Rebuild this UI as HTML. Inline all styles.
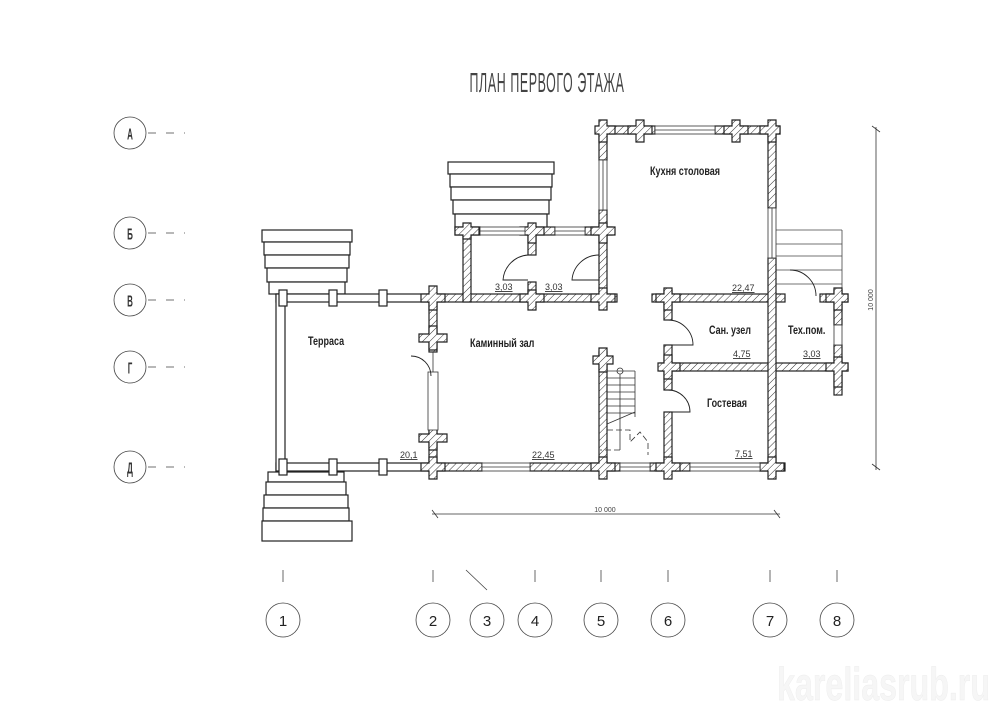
<!DOCTYPE html>
<html><head><meta charset="utf-8"><style>
html,body{margin:0;padding:0;background:#fff}
svg{display:block}
text{font-family:"Liberation Sans",sans-serif}
</style></head><body>
<svg width="1000" height="707" viewBox="0 0 1000 707" xmlns="http://www.w3.org/2000/svg">
<defs>
<pattern id="h" patternUnits="userSpaceOnUse" width="5" height="5" patternTransform="rotate(45)">
<rect width="5" height="5" fill="#fff"/><line x1="0" y1="0" x2="0" y2="5" stroke="#333" stroke-width="1"/>
</pattern>
</defs>

<!-- title -->
<text x="547" y="92" font-size="20" text-anchor="middle" fill="#444" transform="translate(547 92) scale(0.62 1.4) translate(-547 -92)" letter-spacing="1">ПЛАН ПЕРВОГО ЭТАЖА</text>

<!-- left axis circles -->
<g stroke="#444" fill="none" stroke-width="0.8">
<circle cx="130" cy="133" r="16"/><circle cx="130" cy="233" r="16"/><circle cx="130" cy="300" r="16"/><circle cx="130" cy="367" r="16"/><circle cx="130" cy="467" r="16"/>
<g stroke-dasharray="8,10"><line x1="148" y1="133" x2="185" y2="133"/><line x1="148" y1="233" x2="185" y2="233"/><line x1="148" y1="300" x2="185" y2="300"/><line x1="148" y1="367" x2="185" y2="367"/><line x1="148" y1="467" x2="185" y2="467"/></g>
<!-- bottom axis -->
<circle cx="283" cy="620" r="17"/><circle cx="433" cy="620" r="17"/><circle cx="487" cy="620" r="17"/><circle cx="535" cy="620" r="17"/><circle cx="601" cy="620" r="17"/><circle cx="668" cy="620" r="17"/><circle cx="770" cy="620" r="17"/><circle cx="837" cy="620" r="17"/>
<line x1="283" y1="570" x2="283" y2="582"/><line x1="433" y1="570" x2="433" y2="582"/><line x1="466" y1="570" x2="487" y2="590"/><line x1="535" y1="570" x2="535" y2="582"/><line x1="601" y1="570" x2="601" y2="582"/><line x1="668" y1="570" x2="668" y2="582"/><line x1="770" y1="570" x2="770" y2="582"/><line x1="837" y1="570" x2="837" y2="582"/>
</g>
<g font-size="10" font-weight="bold" text-anchor="middle" fill="#333">
<text x="130" y="137" transform="translate(130 133) scale(0.8 1.6) translate(-130 -133)">А</text>
<text x="130" y="237" transform="translate(130 233) scale(0.8 1.6) translate(-130 -233)">Б</text>
<text x="130" y="304" transform="translate(130 300) scale(0.8 1.6) translate(-130 -300)">В</text>
<text x="130" y="371" transform="translate(130 367) scale(0.8 1.6) translate(-130 -367)">Г</text>
<text x="130" y="471" transform="translate(130 467) scale(0.8 1.6) translate(-130 -467)">Д</text>
</g>
<g font-size="15" text-anchor="middle" fill="#222">
<text x="283" y="626">1</text><text x="433" y="626">2</text><text x="487" y="626">3</text><text x="535" y="626">4</text><text x="601" y="626">5</text><text x="668" y="626">6</text><text x="770" y="626">7</text><text x="837" y="626">8</text>
</g>

<!-- dimension lines -->
<g stroke="#333" stroke-width="0.8">
<line x1="432" y1="514" x2="780" y2="514"/><line x1="432" y1="510" x2="438" y2="518"/><line x1="774" y1="510" x2="780" y2="518"/>
<line x1="876" y1="127" x2="876" y2="470"/><line x1="872" y1="126" x2="880" y2="132"/><line x1="872" y1="464" x2="880" y2="470"/>
</g>
<text x="605" y="512" font-size="7" text-anchor="middle" fill="#444">10 000</text>
<text x="0" y="0" font-size="7" text-anchor="middle" fill="#444" transform="translate(873 300) rotate(-90)">10 000</text>

<!-- steps -->
<g stroke="#222" stroke-width="1.2" fill="#fff">
<rect x="448" y="162" width="106" height="12"/><rect x="450" y="174" width="102" height="13"/><rect x="451" y="187" width="100" height="13"/><rect x="453" y="200" width="96" height="14"/><rect x="455" y="214" width="92" height="14"/>
<rect x="262" y="230" width="90" height="12"/><rect x="264" y="242" width="86" height="13"/><rect x="265" y="255" width="84" height="13"/><rect x="267" y="268" width="80" height="14"/><rect x="269" y="282" width="76" height="12"/>
<rect x="268" y="472" width="76" height="10"/><rect x="266" y="482" width="80" height="13"/><rect x="264" y="495" width="84" height="13"/><rect x="263" y="508" width="86" height="13"/><rect x="262" y="521" width="90" height="20"/>
</g>
<g stroke="#444" stroke-width="0.8" fill="none">
<line x1="776" y1="230" x2="842" y2="230"/><line x1="776" y1="244" x2="842" y2="244"/><line x1="776" y1="256" x2="842" y2="256"/><line x1="776" y1="270" x2="842" y2="270"/><line x1="776" y1="284" x2="842" y2="284"/><line x1="842" y1="230" x2="842" y2="290"/>
</g>

<!-- terrace white walls -->
<g stroke="#222" stroke-width="1.2" fill="#fff">
<rect x="276" y="294" width="154" height="8"/><rect x="276" y="463" width="154" height="8"/><rect x="276" y="294" width="9" height="177"/>
<rect x="279" y="290" width="8" height="16"/><rect x="329" y="290" width="8" height="16"/><rect x="379" y="290" width="8" height="16"/>
<rect x="329" y="459" width="8" height="16"/><rect x="379" y="459" width="8" height="16"/><rect x="279" y="459" width="8" height="16"/>
</g>

<!-- hatched walls -->
<g fill="url(#h)" stroke="#222" stroke-width="1.2">
<rect x="428" y="294" width="189" height="8"/>
<rect x="652" y="294" width="133" height="8"/>
<rect x="820" y="294" width="28" height="8"/>
<rect x="660" y="363" width="188" height="8"/>
<rect x="428" y="463" width="54" height="8"/><rect x="530" y="463" width="90" height="8"/><rect x="650" y="463" width="40" height="8"/><rect x="760" y="463" width="25" height="8"/>
<rect x="598" y="126" width="57" height="8"/><rect x="715" y="126" width="65" height="8"/>
<rect x="455" y="227" width="25" height="8"/><rect x="525" y="227" width="30" height="8"/><rect x="585" y="227" width="27" height="8"/>
<rect x="429" y="294" width="8" height="58"/><rect x="429" y="430" width="8" height="41"/>
<rect x="463" y="227" width="8" height="75"/>
<rect x="528" y="227" width="8" height="28"/><rect x="528" y="282" width="8" height="20"/>
<rect x="599" y="126" width="8" height="34"/><rect x="599" y="210" width="8" height="92"/><rect x="599" y="352" width="8" height="119"/>
<rect x="768" y="126" width="8" height="82"/><rect x="768" y="258" width="8" height="213"/>
<rect x="664" y="290" width="8" height="30"/><rect x="664" y="345" width="8" height="45"/><rect x="664" y="412" width="8" height="59"/>
<rect x="834" y="290" width="8" height="35"/><rect x="834" y="345" width="8" height="50"/>
</g>
<!-- crosses -->
<g fill="url(#h)" stroke="#222" stroke-width="1.2">
<path d="M429,286h8v8h8v8h-8v8h-8v-8h-8v-8h8z"/>
<path d="M463,223h8v4h8v8h-8v4h-8v-4h-8v-8h8z"/>
<path d="M528,223h8v4h8v8h-8v8h-8v-8h-8v-8h8z"/>
<path d="M599,223h8v4h8v8h-8v8h-8v-8h-8v-8h8z"/>
<path d="M599,120h8v6h8v8h-8v8h-8v-8h-4v-8h4z"/>
<path d="M636,120h8v6h8v8h-8v8h-8v-8h-8v-8h8z"/>
<path d="M732,120h8v6h8v8h-8v8h-8v-8h-8v-8h8z"/>
<path d="M768,120h8v6h4v8h-4v8h-8v-8h-8v-8h8z"/>
<path d="M528,290h8v4h8v8h-8v8h-8v-8h-8v-8h8z"/>
<path d="M599,288h8v6h8v8h-8v8h-8v-8h-8v-8h8z"/>
<path d="M664,288h8v6h8v8h-8v8h-8v-8h-8v-8h8z"/>
<path d="M834,288h8v6h6v8h-6v8h-8v-8h-8v-8h8z"/>
<path d="M429,326h8v8h10v8h-10v8h-8v-8h-10v-8h10z"/>
<path d="M429,428h8v6h10v8h-10v8h-8v-8h-10v-8h10z"/>
<path d="M599,348h8v8h6v8h-6v8h-8v-8h-6v-8h6z"/>
<path d="M664,355h8v8h8v8h-8v8h-8v-8h-6v-8h6z"/>
<path d="M834,357h8v6h6v8h-6v16h-8v-16h-8v-8h8z"/>
<path d="M429,457h8v6h8v8h-8v8h-8v-8h-8v-8h8z"/>
<path d="M599,457h8v6h8v8h-8v8h-8v-8h-8v-8h8z"/>
<path d="M664,457h8v6h8v8h-8v8h-8v-8h-8v-8h8z"/>
<path d="M768,457h8v6h8v8h-8v8h-8v-8h-8v-8h8z"/>
</g>

<!-- windows -->
<g stroke="#333" stroke-width="0.8" fill="#fff">
<rect x="482" y="463" width="48" height="8"/><line x1="482" y1="467" x2="530" y2="467"/>
<rect x="620" y="463" width="30" height="8"/><line x1="620" y1="467" x2="650" y2="467"/>
<rect x="690" y="463" width="70" height="8"/><line x1="690" y1="467" x2="760" y2="467"/>
<rect x="655" y="126" width="60" height="8"/><line x1="655" y1="130" x2="715" y2="130"/>
<rect x="480" y="227" width="45" height="8"/><line x1="480" y1="231" x2="525" y2="231"/>
<rect x="555" y="227" width="30" height="8"/><line x1="555" y1="231" x2="585" y2="231"/>
<rect x="599" y="160" width="8" height="50"/><line x1="603" y1="160" x2="603" y2="210"/>
<rect x="768" y="208" width="8" height="50"/><line x1="772" y1="208" x2="772" y2="258"/>
<rect x="834" y="325" width="8" height="20"/>
<rect x="428" y="372" width="10" height="58"/><line x1="433" y1="352" x2="433" y2="372"/>
</g>

<!-- doors -->
<g stroke="#222" stroke-width="0.9" fill="none">
<path d="M528,255 A27,27 0 0 0 503,280 L528,280"/>
<path d="M599,255 A27,27 0 0 0 572,280 L599,280"/>
<path d="M668,320 A25,25 0 0 1 693,345 L668,345"/>
<path d="M668,390 A22,22 0 0 1 690,412 L668,412"/>
<path d="M790,270 A26,26 0 0 1 816,296"/>
<path d="M411,356 A20,20 0 0 1 431,376"/>
</g>

<!-- stair -->
<g stroke="#333" stroke-width="0.8" fill="none">
<line x1="607" y1="371" x2="635" y2="371"/><line x1="607" y1="378" x2="635" y2="378"/><line x1="607" y1="385" x2="635" y2="385"/><line x1="607" y1="392" x2="635" y2="392"/><line x1="607" y1="399" x2="635" y2="399"/><line x1="607" y1="406" x2="635" y2="406"/><line x1="607" y1="413" x2="635" y2="413"/><line x1="635" y1="371" x2="635" y2="417"/>
<circle cx="620" cy="371" r="3"/><line x1="620" y1="374" x2="620" y2="450"/>
<line x1="607" y1="424" x2="635" y2="412"/>
<path d="M607,430 H630 V442 L640,432 L648,442 V455 M620,450 H600" stroke-dasharray="6,3"/>
</g>

<!-- labels -->
<g fill="#222" font-size="9" font-weight="bold">
<text x="308" y="345" transform="translate(308 345) scale(1 1.3) translate(-308 -345)">Терраса</text>
<text x="470" y="347" transform="translate(470 347) scale(1 1.3) translate(-470 -347)">Каминный зал</text>
<text x="650" y="175" transform="translate(650 175) scale(1 1.3) translate(-650 -175)">Кухня столовая</text>
<text x="709" y="334" transform="translate(709 334) scale(1 1.3) translate(-709 -334)">Сан. узел</text>
<text x="788" y="334" transform="translate(788 334) scale(1 1.3) translate(-788 -334)">Тех.пом.</text>
<text x="707" y="407" transform="translate(707 407) scale(1 1.3) translate(-707 -407)">Гостевая</text>
</g>
<g fill="#333" font-size="9" text-decoration="underline">
<text x="400" y="458">20,1</text><text x="495" y="290">3,03</text><text x="545" y="290">3,03</text>
<text x="532" y="458">22,45</text><text x="732" y="291">22,47</text><text x="733" y="357">4,75</text>
<text x="803" y="357">3,03</text><text x="735" y="457">7,51</text>
</g>

<text x="990" y="700" font-size="46" font-weight="bold" text-anchor="end" fill="#f6f6f6" stroke="#ececec" stroke-width="0.5" transform="translate(990 700) scale(0.7 1) translate(-990 -700)">kareliasrub.ru</text>
</svg>
</body></html>
